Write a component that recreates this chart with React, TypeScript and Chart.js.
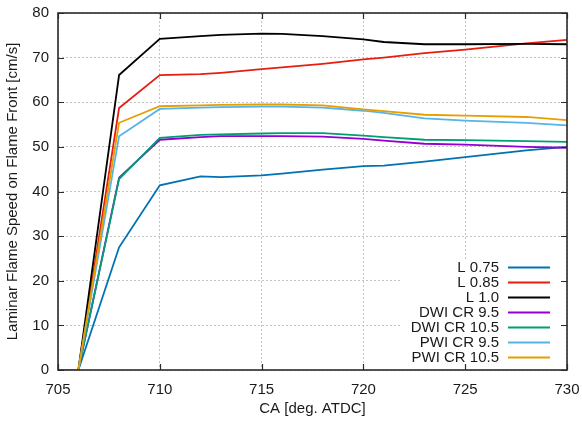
import React, { useEffect, useRef } from "react";
import { Chart, registerables } from "chart.js";

Chart.register(...registerables);

const CA = [705, 706, 708, 710, 712, 713, 715, 716, 718, 720, 721, 723, 725, 728, 730];

const L075 = [0, 0, 27.5, 41.4, 43.4, 43.2, 43.6, 44.0, 44.9, 45.7, 45.8, 46.7, 47.7, 49.2, 50.0];
const L085 = [0, 0, 58.7, 66.1, 66.3, 66.6, 67.4, 67.8, 68.6, 69.6, 70.0, 71.0, 71.8, 73.2, 74.0];
const L10 = [0, 0, 66.1, 74.2, 74.8, 75.1, 75.4, 75.3, 74.8, 74.1, 73.5, 73.0, 73.0, 73.1, 73.0];
const DWI95 = [0, 0, 43.1, 51.6, 52.2, 52.4, 52.4, 52.4, 52.3, 51.8, 51.4, 50.7, 50.5, 50.0, 49.8];
const DWI105 = [0, 0, 42.8, 52.0, 52.7, 52.8, 53.0, 53.1, 53.1, 52.5, 52.2, 51.6, 51.5, 51.3, 51.1];
const PWI95 = [0, 0, 52.4, 58.5, 58.8, 58.9, 59.0, 59.0, 58.8, 58.1, 57.6, 56.4, 55.9, 55.4, 54.8];
const PWI105 = [0, 0, 55.4, 59.1, 59.3, 59.4, 59.5, 59.5, 59.3, 58.4, 58.0, 57.2, 57.0, 56.7, 56.0];

const LABELS = ["L 0.75", "L 0.85", "L 1.0", "DWI CR 9.5", "DWI CR 10.5", "PWI CR 9.5", "PWI CR 10.5"];
const COLORS = ["#0072B2", "#E51E10", "#000000", "#9400D3", "#009E73", "#56B4E9", "#E69F00"];
const SERIES = [L075, L085, L10, DWI95, DWI105, PWI95, PWI105];

const X_TITLE = "CA [deg. ATDC]";
const Y_TITLE = "Laminar Flame Speed on Flame Front [cm/s]";

const FONT_FAMILY = "'Liberation Sans', Arial, sans-serif";

const framePlugin = {
  id: "gnuFrame",
  afterDraw(chart: any) {
    const { ctx, chartArea } = chart;
    const { left, right, top, bottom } = chartArea;
    ctx.save();
    // opaque key box
    ctx.fillStyle = "#ffffff";
    ctx.fillRect(right - 167, bottom - 110, 167, 110);
    // legend
    ctx.font = `15px ${FONT_FAMILY}`;
    ctx.textAlign = "right";
    ctx.textBaseline = "middle";
    const n = LABELS.length;
    for (let i = 0; i < n; i++) {
      const y = bottom - 12.5 - (n - 1 - i) * 15;
      ctx.fillStyle = "#1a1a1a";
      ctx.fillText(LABELS[i], right - 68, y);
      ctx.strokeStyle = COLORS[i];
      ctx.lineWidth = 1.8;
      ctx.beginPath();
      ctx.moveTo(right - 59, y);
      ctx.lineTo(right - 17, y);
      ctx.stroke();
    }
    // inward ticks
    const xs = chart.scales.x;
    const ys = chart.scales.y;
    ctx.strokeStyle = "#2b2b2b";
    ctx.lineWidth = 1.2;
    ctx.beginPath();
    ys.ticks.forEach((t: any) => {
      const py = Math.round(ys.getPixelForValue(t.value)) + 0.5;
      ctx.moveTo(left, py);
      ctx.lineTo(left + 6, py);
      ctx.moveTo(right, py);
      ctx.lineTo(right - 6, py);
    });
    xs.ticks.forEach((t: any) => {
      const px = Math.round(xs.getPixelForValue(t.value)) + 0.5;
      ctx.moveTo(px, bottom);
      ctx.lineTo(px, bottom - 6);
      ctx.moveTo(px, top);
      ctx.lineTo(px, top + 6);
    });
    ctx.stroke();
    // frame
    ctx.lineWidth = 1.6;
    ctx.strokeStyle = "#2b2b2b";
    ctx.strokeRect(left, top, right - left, bottom - top);
    ctx.restore();
  },
};

export default function App() {
  const ref = useRef<HTMLCanvasElement | null>(null);
  useEffect(() => {
    if (!ref.current) return;
    const n = SERIES.length;
    const chart = new Chart(ref.current, {
      type: "line",
      data: {
        datasets: SERIES.map((s, i) => ({
          label: LABELS[i],
          data: CA.map((x, j) => ({ x, y: s[j] })),
          borderColor: COLORS[i],
          backgroundColor: COLORS[i],
          borderWidth: 1.8,
          pointRadius: 0,
          tension: 0,
          fill: false,
          order: n - i,
        })),
      },
      options: {
        responsive: false,
        animation: false,
        layout: { padding: { top: 13, right: 15, left: 0, bottom: 0 } },
        plugins: { legend: { display: false }, tooltip: { enabled: false } },
        scales: {
          x: {
            type: "linear",
            min: 705,
            max: 730,
            afterFit: (s: any) => {
              s.height = 51;
              s.paddingLeft = 0;
              s.paddingRight = 0;
            },
            ticks: {
              stepSize: 5,
              padding: 11,
              color: "#1a1a1a",
              font: { family: FONT_FAMILY, size: 15 },
            },
            grid: { color: "#c4c4c4", lineWidth: 1, drawTicks: false },
            border: { display: false, dash: [2, 2] },
            title: {
              display: true,
              text: X_TITLE,
              color: "#1a1a1a",
              font: { family: FONT_FAMILY, size: 15 },
              padding: { top: 0, bottom: 3 },
            },
          },
          y: {
            min: 0,
            max: 80,
            afterFit: (s: any) => {
              s.width = 58;
              s.paddingTop = 0;
              s.paddingBottom = 0;
            },
            ticks: {
              stepSize: 10,
              padding: 9,
              color: "#1a1a1a",
              font: { family: FONT_FAMILY, size: 15 },
            },
            grid: { color: "#c4c4c4", lineWidth: 1, drawTicks: false },
            border: { display: false, dash: [2, 2] },
            title: {
              display: true,
              text: Y_TITLE,
              color: "#1a1a1a",
              font: { family: FONT_FAMILY, size: 15 },
              padding: { top: 4, bottom: 0 },
            },
          },
        },
      },
      plugins: [framePlugin],
    });
    return () => chart.destroy();
  }, []);
  return (
    <div style={{ position: "fixed", left: 0, top: 0, width: 582, height: 421, background: "#fff" }}>
      <canvas ref={ref} width={582} height={421} />
    </div>
  );
}
